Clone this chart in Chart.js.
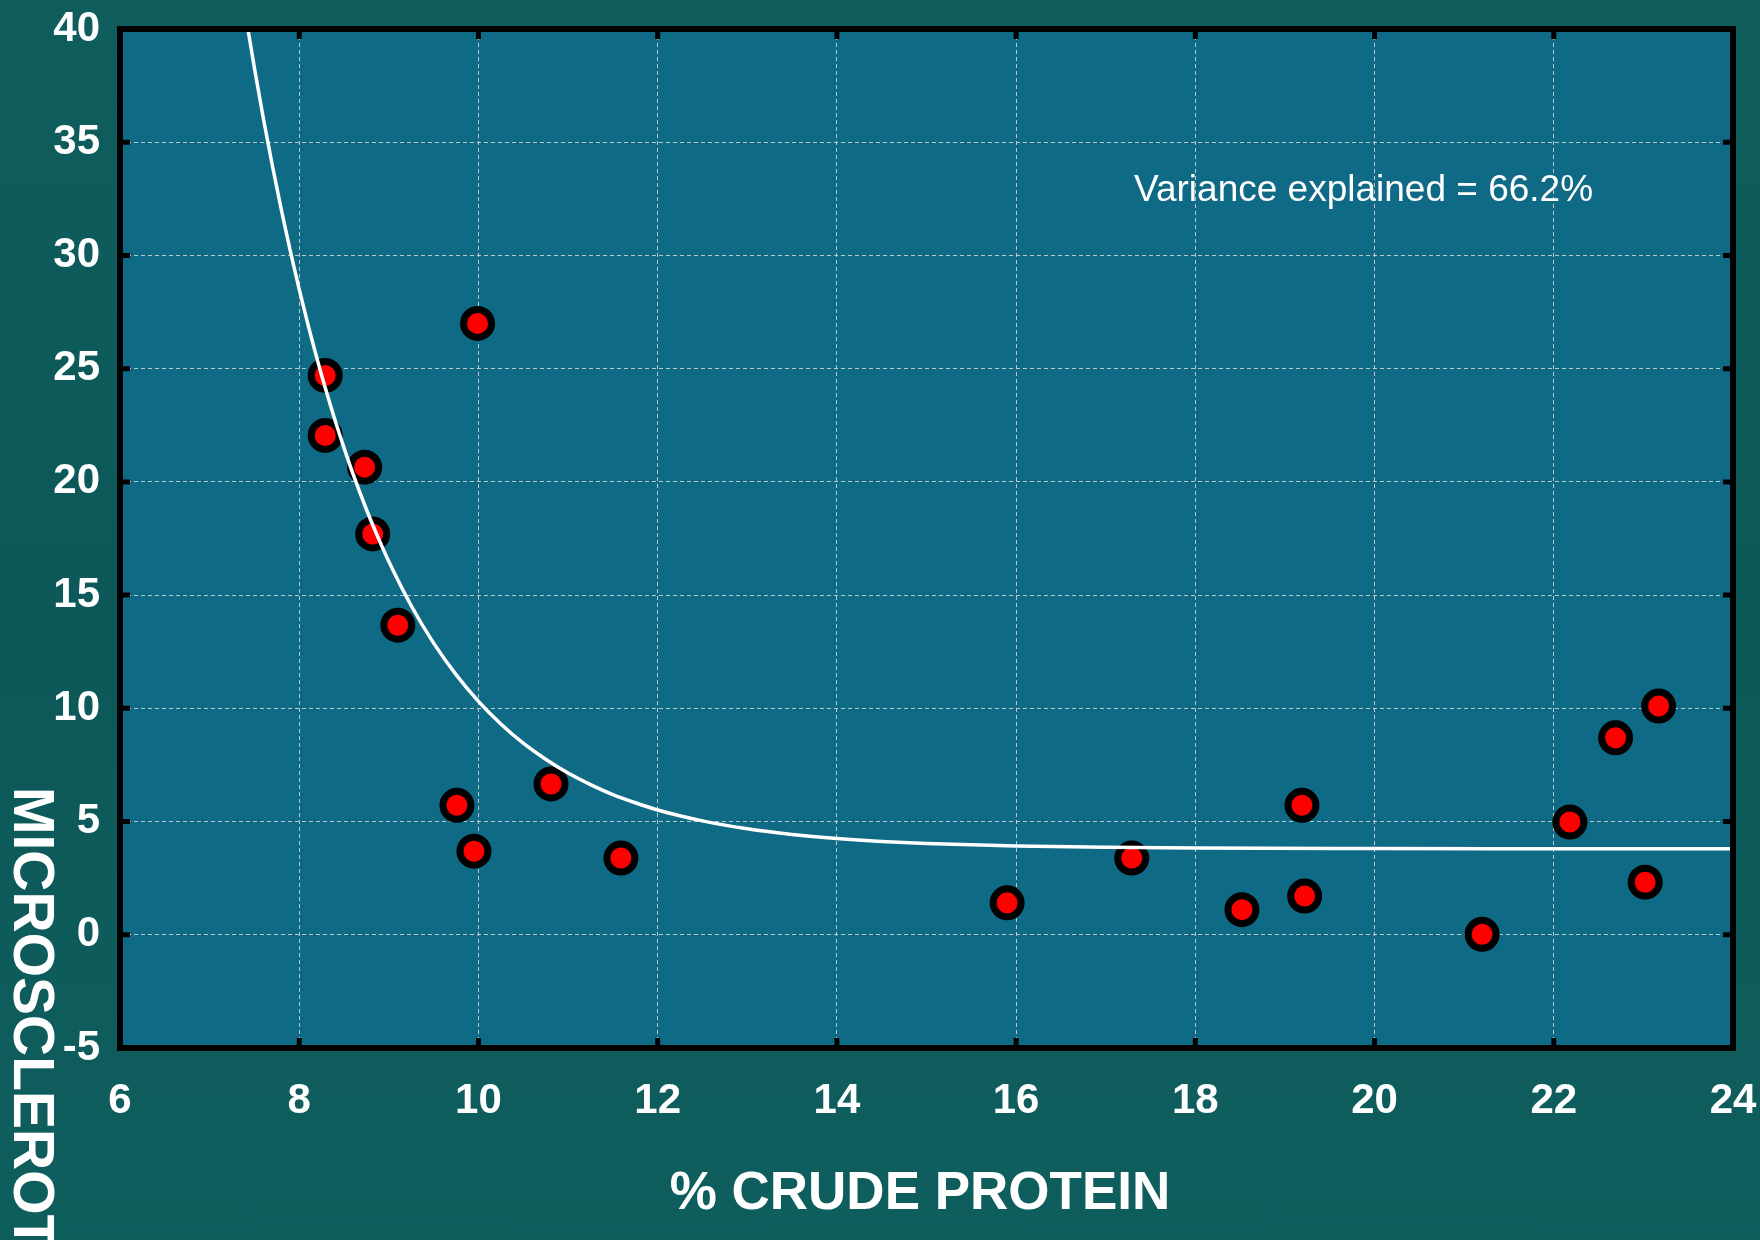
<!DOCTYPE html>
<html>
<head>
<meta charset="utf-8">
<script src="https://cdn.jsdelivr.net/npm/chart.js@4.4.1/dist/chart.umd.min.js"></script>
<style>
  html, body { margin: 0; padding: 0; background: #0e5b5c; }
  #wrap { width: 1760px; height: 1240px; position: relative;
    background: linear-gradient(180deg, #0f5d5d 0%, #0d5859 50%, #0f5e5e 100%); }
</style>
</head>
<body>
<div id="wrap"><canvas id="chart" width="1760" height="1240"></canvas></div>
<script>
// ---- data ----
const proteinPct = [8.29, 8.29, 8.73, 8.82, 9.10, 9.99, 9.76, 9.95, 10.81, 11.59,
                    15.90, 17.29, 18.52, 19.19, 19.22, 21.20, 22.18, 22.69, 23.17, 23.02];
const microsclerotia = [24.7, 22.05, 20.65, 17.7, 13.67, 27.0, 5.72, 3.69, 6.66, 3.39,
                        1.41, 3.39, 1.11, 5.72, 1.71, 0.02, 4.98, 8.7, 10.1, 2.32];

// fitted curve
const curveX = [7.4, 7.5, 7.6, 7.7, 7.8, 7.9, 8.0, 8.1, 8.25, 8.4, 8.5, 8.6, 8.75, 8.9, 9.0, 9.25, 9.5, 9.75,
                10, 10.25, 10.5, 10.75, 11, 11.25, 11.5, 11.75, 12, 12.5, 13, 13.5, 14, 14.5, 15, 16, 17, 18, 20, 22, 24];
const curveY = [40.65, 38.28, 36.05, 33.97, 32.02, 30.2, 28.5, 26.91, 24.71, 22.72, 21.5, 20.35, 18.78, 17.36, 16.48, 14.53, 12.88, 11.49,
                10.31, 9.31, 8.46, 7.75, 7.14, 6.63, 6.19, 5.83, 5.51, 5.03, 4.68, 4.43, 4.25, 4.12, 4.03, 3.92, 3.86, 3.83, 3.81, 3.8, 3.8];

const xTicks = [6, 8, 10, 12, 14, 16, 18, 20, 22, 24];
const yTicks = [-5, 0, 5, 10, 15, 20, 25, 30, 35, 40];

const xTitle = '% CRUDE PROTEIN';
const yTitle = 'MICROSCLEROTIA';
const note = 'Variance explained = 66.2%';

const FONT = '"Liberation Sans", Arial, sans-serif';
Chart.defaults.font.family = FONT;

// plot background, frame, inward ticks and free text
const framePlugin = {
  id: 'framePlugin',
  beforeDraw(chart) {
    const { ctx, chartArea: a } = chart;
    ctx.save();
    ctx.fillStyle = '#0f6a86';
    ctx.fillRect(a.left, a.top, a.right - a.left, a.bottom - a.top);
    ctx.restore();
  },
  afterDraw(chart) {
    const { ctx, chartArea: a, scales: { x, y } } = chart;
    ctx.save();
    ctx.strokeStyle = '#000';
    ctx.lineWidth = 6;
    ctx.strokeRect(a.left, a.top, a.right - a.left, a.bottom - a.top);

    ctx.lineWidth = 5;
    ctx.beginPath();
    xTicks.forEach(v => {
      const px = x.getPixelForValue(v);
      ctx.moveTo(px, a.bottom); ctx.lineTo(px, a.bottom - 10);
      ctx.moveTo(px, a.top); ctx.lineTo(px, a.top + 10);
    });
    yTicks.forEach(v => {
      const py = y.getPixelForValue(v);
      ctx.moveTo(a.left, py); ctx.lineTo(a.left + 10, py);
      ctx.moveTo(a.right, py); ctx.lineTo(a.right - 10, py);
    });
    ctx.stroke();

    ctx.fillStyle = '#fff';
    ctx.font = '37px ' + FONT;
    ctx.textAlign = 'left';
    ctx.textBaseline = 'alphabetic';
    ctx.fillText(note, 1134, 201);

    ctx.font = 'bold 53px ' + FONT;
    ctx.textAlign = 'center';
    ctx.fillText(xTitle, 920, 1209);

    ctx.translate(14, 787);
    ctx.rotate(Math.PI / 2);
    ctx.textAlign = 'left';
    ctx.font = 'bold 57px ' + FONT;
    ctx.fillText(yTitle, 0, 0);
    ctx.restore();
  }
};

const gridStyle = { color: 'rgba(215,215,215,0.85)', lineWidth: 1, drawTicks: false };

new Chart(document.getElementById('chart'), {
  type: 'scatter',
  data: {
    datasets: [
      {
        type: 'line',
        data: curveX.map((v, i) => ({ x: v, y: curveY[i] })),
        borderColor: '#ffffff', borderWidth: 3.5, pointRadius: 0,
        cubicInterpolationMode: 'monotone', fill: false
      },
      {
        data: proteinPct.map((v, i) => ({ x: v, y: microsclerotia[i] })),
        backgroundColor: '#ff0000', borderColor: '#000000',
        pointRadius: 14, borderWidth: 7, pointHoverRadius: 14
      }
    ]
  },
  options: {
    responsive: false, animation: false, devicePixelRatio: 1,
    layout: { padding: { top: 29, right: 27, left: 0, bottom: 0 } },
    plugins: { legend: { display: false }, tooltip: { enabled: false } },
    scales: {
      x: {
        type: 'linear', min: 6, max: 24,
        afterBuildTicks: s => { s.ticks = xTicks.map(v => ({ value: v })); },
        afterFit: s => { s.height = 192; s.paddingLeft = 0; s.paddingRight = 0; },
        grid: gridStyle,
        border: { display: false, dash: [4, 3] },
        ticks: { color: '#fff', font: { size: 42, weight: 'bold' }, padding: 28, maxRotation: 0 }
      },
      y: {
        type: 'linear', min: -5, max: 40,
        afterBuildTicks: s => { s.ticks = yTicks.map(v => ({ value: v })); },
        afterFit: s => { s.width = 120; s.paddingTop = 0; s.paddingBottom = 0; },
        grid: gridStyle,
        border: { display: false, dash: [4, 3] },
        ticks: { color: '#fff', font: { size: 42, weight: 'bold' }, padding: 20 }
      }
    }
  },
  plugins: [framePlugin]
});
</script>
</body>
</html>
